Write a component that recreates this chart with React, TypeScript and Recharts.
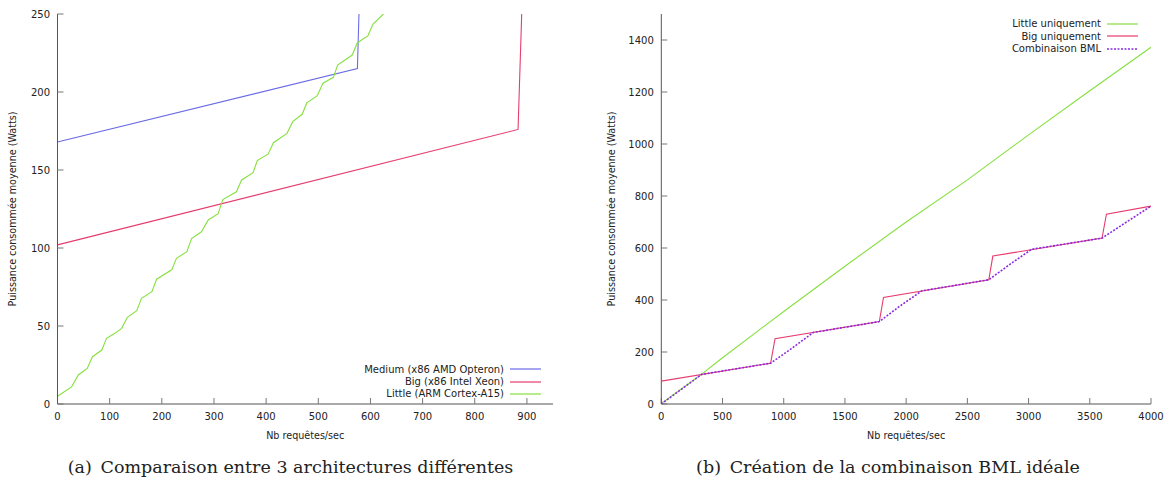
import React from 'react';
import { LineChart, Line, XAxis, YAxis, Legend } from 'recharts';

// ---------- (a) Comparaison entre 3 architectures ----------
const leftXTicks = [0, 100, 200, 300, 400, 500, 600, 700, 800, 900];
const leftYTicks = [0, 50, 100, 150, 200, 250];

const mediumX = [0, 575, 578];
const mediumY = [168, 215, 250];

const bigX = [0, 883, 890];
const bigY = [102, 176, 250];

const littleX = [0, 27, 40, 57, 67, 85, 94, 110, 123, 134, 152, 161, 181, 190, 219, 228, 248, 257, 276, 289, 308, 317, 343, 353, 375, 383, 404, 414, 440, 451, 469, 478, 498, 509, 529, 537, 565, 575, 595, 605, 625];
const littleY = [5, 11, 18.6, 22.8, 30.3, 34.6, 42.1, 45.3, 48.5, 55.6, 59.8, 67.7, 72, 80, 86, 93.4, 97.6, 106, 110.4, 118, 122, 131, 136, 143.6, 148.3, 156, 160.3, 167.5, 173.5, 181, 185.7, 193, 197.6, 205.6, 209.4, 217.3, 223.7, 231.6, 236, 243.6, 250];

// ---------- (b) Création de la combinaison BML ----------
const rightXTicks = [0, 500, 1000, 1500, 2000, 2500, 3000, 3500, 4000];
const rightYTicks = [0, 200, 400, 600, 800, 1000, 1200, 1400];

const rLittleX = [0, 330, 500, 1000, 1500, 2000, 2500, 3000, 3500, 4000];
const rLittleY = [2, 115, 178, 356, 530, 700, 862, 1035, 1205, 1372];

const rBigX = [0, 893, 929, 1781, 1815, 2675, 2708, 3600, 3636, 4000];
const rBigY = [88, 157, 251, 317, 410, 478, 569, 638, 730, 761];

const rBmlX = [0, 330, 893, 1060, 1241, 1781, 1950, 2127, 2675, 2850, 3025, 3600, 3800, 4000];
const rBmlY = [0, 114, 157, 212, 275, 317, 377, 435, 478, 538, 595, 638, 700, 761];

const toPts = (xs: number[], ys: number[]) => xs.map((x, i) => ({ x, y: ys[i] }));

const FONT = '"DejaVu Sans", Verdana, sans-serif';
const AXIS = '#555';
const TICK = '#777';
const TEXT = '#222';

type Series = { name: string; color: string; dashed?: boolean; data: { x: number; y: number }[] };

const leftSeries: Series[] = [
  { name: 'Medium (x86 AMD Opteron)', color: '#6b6be6', data: toPts(mediumX, mediumY) },
  { name: 'Big (x86 Intel Xeon)', color: '#e63c6e', data: toPts(bigX, bigY) },
  { name: 'Little (ARM Cortex-A15)', color: '#86e040', data: toPts(littleX, littleY) },
];

const rightSeries: Series[] = [
  { name: 'Little uniquement', color: '#86e040', data: toPts(rLittleX, rLittleY) },
  { name: 'Big uniquement', color: '#e63c6e', data: toPts(rBigX, rBigY) },
  { name: 'Combinaison BML', color: '#8a2be2', dashed: true, data: toPts(rBmlX, rBmlY) },
];

const LegendBox = ({ series }: { series: Series[] }) => (
  <div style={{ fontFamily: FONT, fontSize: 10, color: TEXT }}>
    {series.map((s) => (
      <div key={s.name} style={{ display: 'flex', alignItems: 'center', justifyContent: 'flex-end', height: 12.4, whiteSpace: 'nowrap' }}>
        <span>{s.name}</span>
        <svg width={31} height={4} style={{ marginLeft: 6 }}>
          <line x1={0} y1={2} x2={31} y2={2} stroke={s.color} strokeWidth={s.dashed ? 1.6 : 1.2} strokeDasharray={s.dashed ? '2 1.5' : undefined} />
        </svg>
      </div>
    ))}
  </div>
);

type PanelProps = {
  width: number;
  height: number;
  yAxisWidth: number;
  marginRight: number;
  xDomain: [number, number];
  yDomain: [number, number];
  xTicks: number[];
  yTicks: number[];
  series: Series[];
  legendStyle: React.CSSProperties;
  yLabelX: number;
};

const Panel = (p: PanelProps) => (
  <LineChart
    width={p.width}
    height={p.height}
    margin={{ top: 14, right: p.marginRight, bottom: p.height - 404 - 30, left: 0 }}
  >
    <XAxis
      xAxisId="b"
      type="number"
      dataKey="x"
      domain={p.xDomain}
      ticks={p.xTicks}
      allowDataOverflow
      height={30}
      tickSize={-6}
      tickMargin={15}
      axisLine={{ stroke: AXIS }}
      tickLine={{ stroke: TICK }}
      tick={{ fill: TEXT, fontSize: 10, fontFamily: FONT }}
      label={{
        content: (props: any) => {
          const vb = props.viewBox || { x: 0, y: 404, width: p.width, height: 30 };
          return (
            <text x={vb.x + vb.width / 2} y={vb.y + 31} textAnchor="middle" dominantBaseline="central" fontSize={9.6} fontFamily={FONT} fill={TEXT}>
              Nb requêtes/sec
            </text>
          );
        },
      }}
    />
    <XAxis
      xAxisId="t"
      orientation="top"
      type="number"
      dataKey="x"
      domain={p.xDomain}
      ticks={p.xTicks}
      allowDataOverflow
      height={0}
      tickSize={-6}
      axisLine={{ stroke: AXIS }}
      tickLine={{ stroke: TICK }}
      tick={false}
    />
    <YAxis
      yAxisId="l"
      type="number"
      domain={p.yDomain}
      ticks={p.yTicks}
      allowDataOverflow
      width={p.yAxisWidth}
      tickSize={-6}
      tickMargin={13.5}
      axisLine={{ stroke: AXIS }}
      tickLine={{ stroke: TICK }}
      tick={{ fill: TEXT, fontSize: 10, fontFamily: FONT }}
      label={{
        content: (props: any) => {
          const vb = props.viewBox || { x: 0, y: 14, width: p.yAxisWidth, height: 390 };
          const cy = vb.y + vb.height / 2;
          return (
            <text x={p.yLabelX} y={cy} transform={`rotate(-90, ${p.yLabelX}, ${cy})`} textAnchor="middle" dominantBaseline="central" fontSize={9.6} fontFamily={FONT} fill={TEXT}>
              Puissance consommée moyenne (Watts)
            </text>
          );
        },
      }}
    />
    <YAxis
      yAxisId="r"
      orientation="right"
      type="number"
      domain={p.yDomain}
      ticks={p.yTicks}
      allowDataOverflow
      width={0}
      tickSize={-6}
      axisLine={{ stroke: AXIS }}
      tickLine={{ stroke: TICK }}
      tick={false}
    />
    {p.series.map((s) => (
      <Line
        key={s.name}
        xAxisId="b"
        yAxisId="l"
        data={s.data}
        dataKey="y"
        name={s.name}
        type="linear"
        stroke={s.color}
        strokeWidth={s.dashed ? 1.6 : 1.1}
        strokeDasharray={s.dashed ? '2 1.5' : undefined}
        dot={false}
        activeDot={false}
        isAnimationActive={false}
      />
    ))}
    <Legend
      layout="horizontal"
      verticalAlign="middle"
      align="center"
      wrapperStyle={{ position: 'absolute', left: 'auto', width: 'auto', bottom: 'auto', ...p.legendStyle }}
      content={() => <LegendBox series={p.series} />}
    />
  </LineChart>
);

const captionStyle: React.CSSProperties = {
  position: 'absolute',
  top: 456,
  textAlign: 'center',
  fontFamily: '"DejaVu Serif", serif',
  fontSize: 17.5,
  lineHeight: '22px',
  color: '#222',
  whiteSpace: 'pre',
};

export default function App() {
  return (
    <div style={{ position: 'absolute', left: 0, top: 0, width: 1167, height: 481, background: '#fff', overflow: 'hidden' }}>
      <div style={{ position: 'absolute', left: 0, top: 0 }}>
        <Panel
          width={580}
          height={445}
          yAxisWidth={57.5}
          marginRight={27}
          xDomain={[0, 950]}
          yDomain={[0, 250]}
          xTicks={leftXTicks}
          yTicks={leftYTicks}
          series={leftSeries}
          legendStyle={{ top: 363, right: 39 }}
          yLabelX={12.5}
        />
      </div>
      <div style={{ position: 'absolute', left: 600, top: 0 }}>
        <Panel
          width={567}
          height={445}
          yAxisWidth={61.3}
          marginRight={16}
          xDomain={[0, 4000]}
          yDomain={[0, 1500]}
          xTicks={rightXTicks}
          yTicks={rightYTicks}
          series={rightSeries}
          legendStyle={{ top: 17.8, right: 29 }}
          yLabelX={11.5}
        />
      </div>
      <div style={{ ...captionStyle, left: 0, width: 581 }}>
        {'(a)\u2002Comparaison entre 3 architectures différentes'}
      </div>
      <div style={{ ...captionStyle, left: 588, width: 600 }}>
        {'(b)\u2002Création de la combinaison BML idéale'}
      </div>
    </div>
  );
}
